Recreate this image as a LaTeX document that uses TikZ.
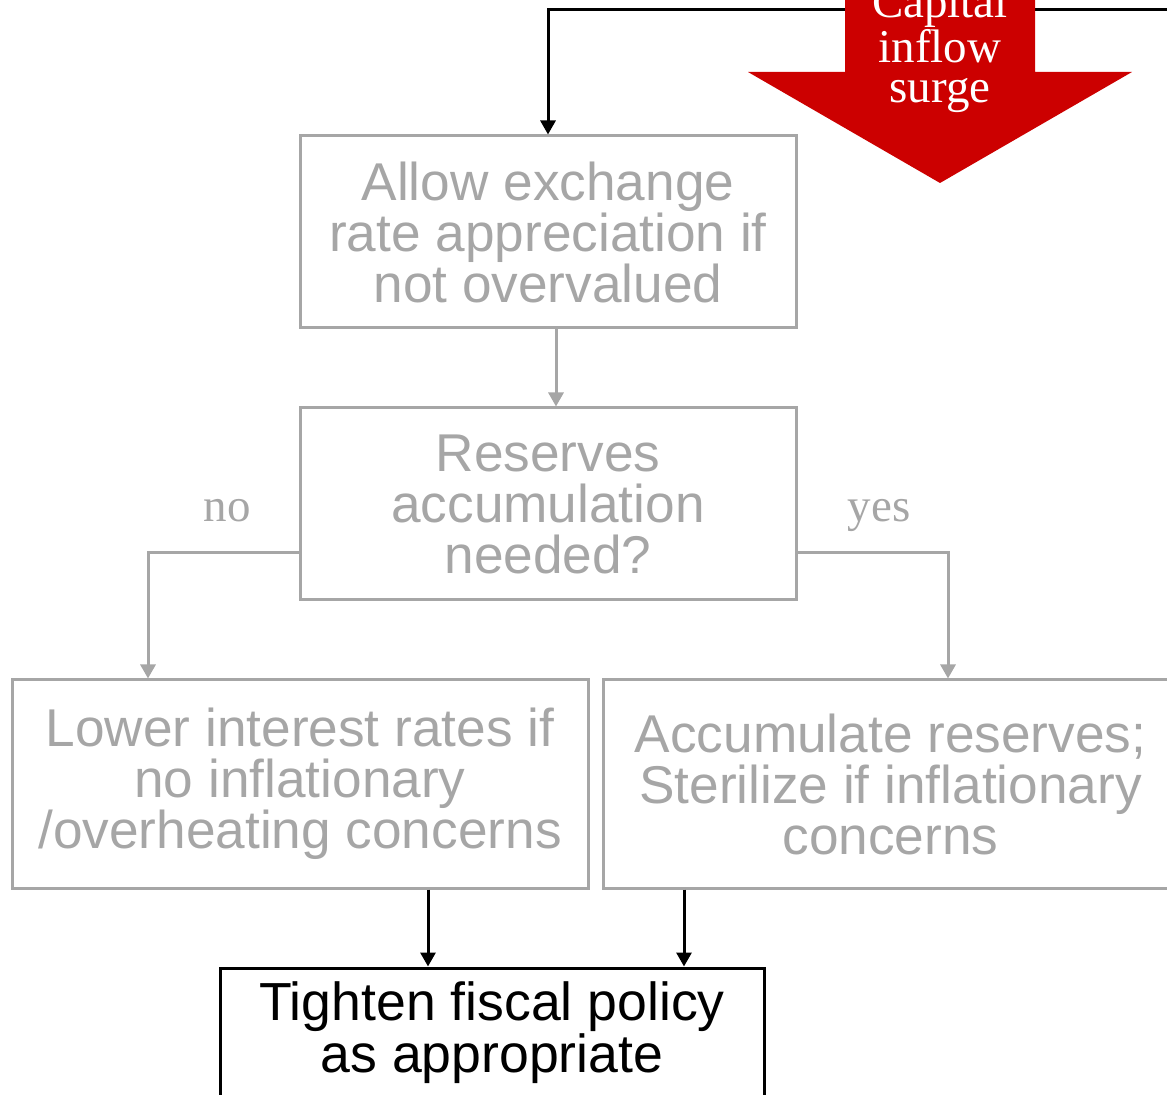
\documentclass[tikz,border=0pt]{standalone}
\usepackage{fontspec}
\setmainfont{Liberation Sans}
\newfontfamily\seriffont{Liberation Serif}
\usetikzlibrary{arrows.meta}
\definecolor{boxgray}{HTML}{A6A6A6}
\definecolor{surgered}{HTML}{CC0000}
\tikzset{
  graybox/.style={draw=boxgray, line width=1.5pt, text=boxgray, inner sep=0pt,
    align=center, font=\fontsize{26.6pt}{25.5pt}\selectfont},
  blackbox/.style={draw=black, line width=1.5pt, text=black, inner sep=0pt,
    align=center, font=\fontsize{26.8pt}{24.5pt}\selectfont},
  grayflow/.style={draw=boxgray, line width=1.5pt,
    -{Triangle[width=7.5pt,length=7pt]}},
  blackflow/.style={draw=black, line width=1.5pt,
    -{Triangle[width=7.5pt,length=7pt]}},
  branchlabel/.style={text=boxgray, inner sep=0pt, anchor=base,
    font=\seriffont\fontsize{23.5pt}{20pt}\selectfont},
}
\begin{document}
\begin{tikzpicture}[x=0.5pt, y=-0.5pt]
  \useasboundingbox (0,0) rectangle (1167,1095);
  \clip (0,0) rectangle (1167,1095);

  % boxes of the decision chain
  \node[graybox, minimum width=248pt, minimum height=96pt] (allow) at (548,232)
    {Allow exchange\\rate appreciation if\\not overvalued};
  \node[graybox, minimum width=248pt, minimum height=96pt] (reserves) at (548,504)
    {Reserves\\accumulation\\needed?};
  \node[graybox, minimum width=288pt, minimum height=104pt] (lower) at (300,784)
    {Lower interest rates if\\no inflationary\\/overheating concerns};
  \node[graybox, minimum width=287.5pt, minimum height=104pt] (accum) at (890.5,784)
    {Accumulate reserves;\\Sterilize if inflationary\\concerns};
  \node[blackbox, minimum width=272pt, minimum height=65pt] (fiscal) at (492,1033)
    {Tighten fiscal policy\\as appropriate};

  % incoming surge: line from the right edge into the first box
  \coordinate (feed) at (1190,10);
  \draw[blackflow] (feed) -| (allow.north);

  % red block arrow
  \fill[surgered] (845,-60) -- (845,72) -- (748,72) -- (940,183)
    -- (1132,72) -- (1035,72) -- (1035,-60) -- cycle;
  \node[text=white, inner sep=0pt, align=center,
    font=\seriffont\fontsize{23.5pt}{20pt}\selectfont] (surge) at (940,49)
    {Capital\\inflow\\surge};

  % gray flow
  \draw[grayflow] ([xshift=4pt]allow.south) -- ([xshift=4pt]reserves.north);
  \draw[grayflow] ([yshift=-24.5pt]reserves.west) -| ([xshift=-76pt]lower.north);
  \draw[grayflow] ([yshift=-24.5pt]reserves.east) -| ([xshift=28.75pt]accum.north);
  \node[branchlabel] (no) at (227,522) {no};
  \node[branchlabel] (yes) at (879,522) {yes};

  % black flow into the fiscal box
  \draw[blackflow] ([xshift=64pt]lower.south) -- ([xshift=64pt]lower.south |- fiscal.north);
  \draw[blackflow] ([xshift=-103.25pt]accum.south) -- ([xshift=-103.25pt]accum.south |- fiscal.north);
\end{tikzpicture}
\end{document}
